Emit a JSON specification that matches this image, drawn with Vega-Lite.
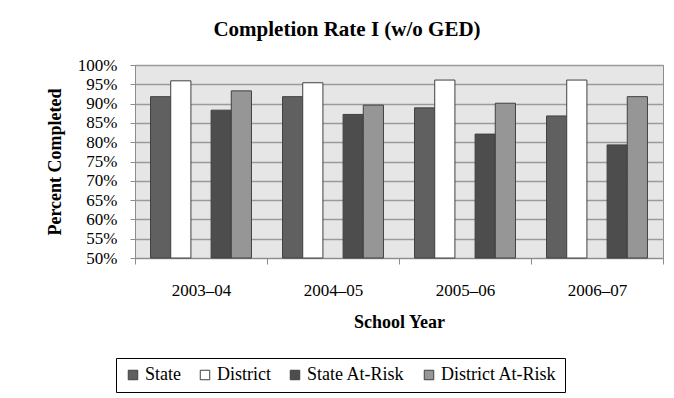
{
  "$schema": "https://vega.github.io/schema/vega-lite/v6.json",
  "width": 528,
  "height": 193,
  "autosize": {"type": "none"},
  "padding": {"left": 135, "top": 65, "right": 11, "bottom": 140},
  "background": "white",
  "title": {
    "text": "Completion Rate I (w/o GED)",
    "anchor": "middle",
    "frame": "group",
    "dx": -52,
    "offset": 16,
    "font": "Liberation Serif",
    "fontSize": 21,
    "fontWeight": "bold",
    "color": "#000000"
  },
  "data": {
    "values": [
      {"year": "2003–04", "series": "State", "value": 0.918},
      {"year": "2003–04", "series": "District", "value": 0.959},
      {"year": "2003–04", "series": "State At-Risk", "value": 0.883},
      {"year": "2003–04", "series": "District At-Risk", "value": 0.933},
      {"year": "2004–05", "series": "State", "value": 0.918},
      {"year": "2004–05", "series": "District", "value": 0.954},
      {"year": "2004–05", "series": "State At-Risk", "value": 0.872},
      {"year": "2004–05", "series": "District At-Risk", "value": 0.896},
      {"year": "2005–06", "series": "State", "value": 0.889},
      {"year": "2005–06", "series": "District", "value": 0.961},
      {"year": "2005–06", "series": "State At-Risk", "value": 0.821},
      {"year": "2005–06", "series": "District At-Risk", "value": 0.901},
      {"year": "2006–07", "series": "State", "value": 0.868},
      {"year": "2006–07", "series": "District", "value": 0.961},
      {"year": "2006–07", "series": "State At-Risk", "value": 0.793},
      {"year": "2006–07", "series": "District At-Risk", "value": 0.918}
    ]
  },
  "mark": {"type": "bar", "stroke": "#404040", "strokeWidth": 1},
  "encoding": {
    "x": {
      "field": "year",
      "type": "nominal",
      "sort": null,
      "scale": {"paddingInner": 0, "paddingOuter": 0},
      "axis": {
        "title": "School Year",
        "labelAngle": 0,
        "tickBand": "extent",
        "tickSize": 6,
        "tickColor": "#8c8c8c",
        "domainColor": "#8c8c8c",
        "labelPadding": 18,
        "titlePadding": 15,
        "grid": false
      }
    },
    "xOffset": {
      "field": "series",
      "type": "nominal",
      "scale": {
        "domain": ["State", "District", "gap", "State At-Risk", "District At-Risk"],
        "paddingInner": 0,
        "paddingOuter": 0.77
      }
    },
    "y": {
      "field": "value",
      "type": "quantitative",
      "scale": {"domain": [0.5, 1.0], "nice": false, "zero": false},
      "axis": {
        "title": "Percent Completed",
        "format": ".0%",
        "values": [0.5, 0.55, 0.6, 0.65, 0.7, 0.75, 0.8, 0.85, 0.9, 0.95, 1.0],
        "tickSize": 5,
        "tickColor": "#8c8c8c",
        "domainColor": "#8c8c8c",
        "gridColor": "#9a9a9a",
        "gridWidth": 1.5,
        "labelPadding": 13,
        "titlePadding": 13
      }
    },
    "y2": {"datum": 0.5},
    "color": {
      "field": "series",
      "type": "nominal",
      "scale": {
        "domain": ["State", "District", "State At-Risk", "District At-Risk"],
        "range": ["#606060", "#ffffff", "#4d4d4d", "#969696"]
      },
      "legend": {
        "title": null,
        "orient": "none",
        "direction": "horizontal",
        "legendX": -19,
        "legendY": 293,
        "strokeColor": "#000000",
        "padding": 8,
        "symbolType": "square",
        "symbolSize": 90,
        "symbolStrokeColor": "#404040",
        "symbolStrokeWidth": 1,
        "symbolOpacity": 1,
        "columnPadding": 15,
        "labelOffset": 3
      }
    }
  },
  "config": {
    "view": {"fill": "#e6e6e6", "stroke": "#8c8c8c", "strokeWidth": 1},
    "font": "Liberation Serif",
    "axis": {
      "labelFont": "Liberation Serif",
      "labelFontSize": 17,
      "labelColor": "#000000",
      "titleFont": "Liberation Serif",
      "titleFontSize": 18,
      "titleFontWeight": "bold",
      "titleColor": "#000000"
    },
    "legend": {
      "labelFont": "Liberation Serif",
      "labelFontSize": 18,
      "labelColor": "#000000"
    }
  }
}
